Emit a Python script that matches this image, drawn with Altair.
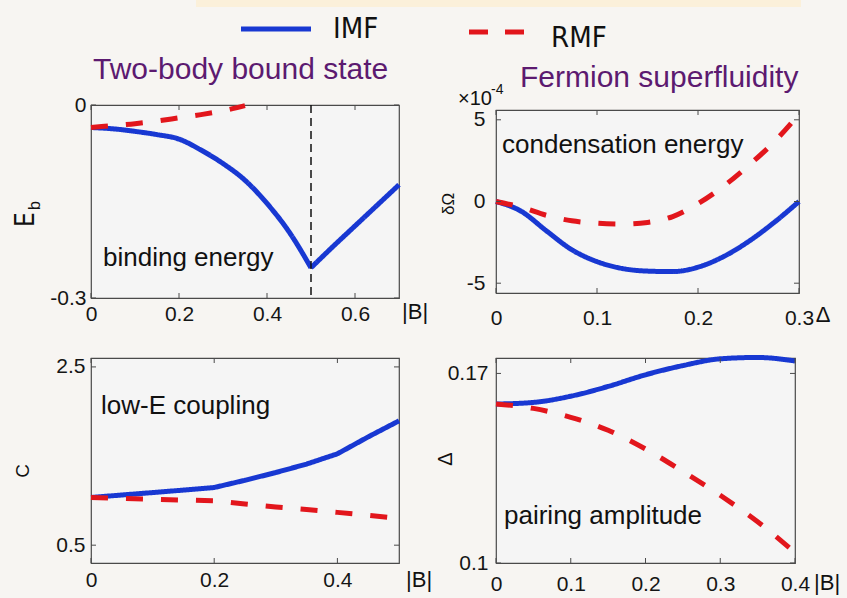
import altair as alt
import pandas as pd

# ---------------- data ----------------
series = ["IMF", "RMF"]

# Two-body bound state: binding energy E_b vs |B|  (IMF drawn as two pieces meeting at |B| = 0.5)
p1_B_imf = [0, 0.05, 0.1, 0.15, 0.2, 0.25, 0.3, 0.35, 0.4, 0.45, 0.5, 0.5, 0.55, 0.6, 0.65, 0.7]
p1_E_imf = [-0.035, -0.037, -0.041, -0.046, -0.053, -0.070, -0.091, -0.117, -0.153, -0.197,
            -0.253, -0.253, -0.220, -0.188, -0.156, -0.124]
p1_seg_imf = ["a"] * 11 + ["b"] * 5
p1_B_rmf = [0, 0.05, 0.1, 0.15, 0.2, 0.25, 0.3, 0.35]
p1_E_rmf = [-0.035, -0.032, -0.029, -0.025, -0.020, -0.015, -0.009, -0.001]
p1_xticks = [0, 0.2, 0.4, 0.6]
p1_yticks = [-0.3, 0]
p1_marker = [0.5]

# Fermion superfluidity: condensation energy dOmega (x1e-4) vs Delta
p2_D = [0, 0.025, 0.05, 0.075, 0.1, 0.125, 0.15, 0.175, 0.2, 0.225, 0.25, 0.275, 0.3]
p2_imf = [0, -0.6, -1.8, -2.95, -3.68, -4.1, -4.26, -4.29, -4.02, -3.38, -2.45, -1.3, 0]
p2_rmf = [0, -0.35, -0.85, -1.18, -1.33, -1.38, -1.28, -0.92, -0.13, 0.92, 2.2, 3.62, 5.35]
p2_xticks = [0, 0.1, 0.2, 0.3]
p2_yticks = [-5, 0, 5]

# low-E coupling C vs |B|
p3_B = [0, 0.05, 0.1, 0.15, 0.2, 0.25, 0.3, 0.35, 0.4, 0.45, 0.5]
p3_imf = [1.035, 1.063, 1.09, 1.118, 1.147, 1.228, 1.315, 1.41, 1.525, 1.715, 1.895]
p3_rmf = [1.035, 1.024, 1.015, 1.006, 0.998, 0.962, 0.928, 0.899, 0.868, 0.835, 0.80]
p3_xticks = [0, 0.2, 0.4]
p3_yticks = [0.5, 2.5]

# pairing amplitude Delta vs |B|
p4_B = [0, 0.05, 0.1, 0.15, 0.2, 0.25, 0.3, 0.35, 0.4]
p4_imf = [0.1587, 0.1593, 0.1616, 0.1652, 0.1695, 0.1729, 0.1754, 0.1759, 0.1746]
p4_rmf = [0.1587, 0.1571, 0.1538, 0.1490, 0.1421, 0.1338, 0.1250, 0.1152, 0.1039]
p4_xticks = [0, 0.1, 0.2, 0.3, 0.4]
p4_yticks = [0.1, 0.17]

# ---------------- styles ----------------
BLUE = "#1838d2"
RED = "#e2161c"
PURPLE = "#5c1a70"
AXC = "#4a4a4a"
FONT = "Liberation Sans"
COND = "DejaVu Sans Condensed, Liberation Sans"
LAB = "replace(format(datum.value, '~g'), '\u2212', '-')"


def txt(s, x, y, size=26, color="#111111", angle=None, align="left",
        baseline="alphabetic", font=FONT):
    kw = dict(fontSize=size, color=color, align=align, baseline=baseline, font=font)
    if angle is not None:
        kw["angle"] = angle
    return alt.Chart(pd.DataFrame({"t": [s]})).mark_text(**kw).encode(
        x=alt.value(x), y=alt.value(y), text="t:N")


def panel(x_imf, y_imf, x_rmf, y_rmf, xdom, ydom, xticks, yticks, W, H, xpad, ypad, extras,
          interp="linear", seg_imf=None):
    n1, n2 = len(x_imf), len(x_rmf)
    df = pd.DataFrame({
        "x": list(x_imf) + list(x_rmf),
        "y": list(y_imf) + list(y_rmf),
        "s": ["IMF"] * n1 + ["RMF"] * n2,
        "g": [("IMF" + k) for k in (seg_imf or ["a"] * n1)] + ["RMF"] * n2,
        "i": list(range(n1 + n2)),
    })
    xs = alt.Scale(domain=xdom, nice=False, zero=False)
    ys = alt.Scale(domain=ydom, nice=False, zero=False)
    xax = alt.Axis(values=xticks, title=None, ticks=False, domain=False, grid=False,
                   labelPadding=xpad, labelFlush=False, labelOverlap=False, labelExpr=LAB)
    yax = alt.Axis(values=yticks, title=None, ticks=False, domain=False, grid=False,
                   labelPadding=ypad, labelFlush=False, labelOverlap=False, labelExpr=LAB)
    X = lambda f: alt.X(f, scale=xs, axis=xax)
    Y = lambda f: alt.Y(f, scale=ys, axis=yax)
    lines = alt.Chart(df).mark_line(strokeWidth=5, interpolate=interp).encode(
        x=X("x:Q"),
        y=Y("y:Q"),
        color=alt.Color("s:N", scale=alt.Scale(domain=series, range=[BLUE, RED]), legend=None),
        strokeDash=alt.StrokeDash("s:N", scale=alt.Scale(domain=series, range=[[1, 0], [17, 18]]),
                                  legend=None),
        detail="g:N",
        order=alt.Order("i:Q"),
    )
    xt = pd.DataFrame({"x": xticks})
    yt = pd.DataFrame({"y": yticks})
    rb = alt.Chart(xt).mark_rule(color=AXC, strokeWidth=1).encode(
        x=X("x:Q"), y=alt.value(H), y2=alt.value(H - 5))
    rt = alt.Chart(xt).mark_rule(color=AXC, strokeWidth=1).encode(
        x=X("x:Q"), y=alt.value(0), y2=alt.value(5))
    rl = alt.Chart(yt).mark_rule(color=AXC, strokeWidth=1).encode(
        y=Y("y:Q"), x=alt.value(0), x2=alt.value(5))
    rr = alt.Chart(yt).mark_rule(color=AXC, strokeWidth=1).encode(
        y=Y("y:Q"), x=alt.value(W), x2=alt.value(W - 5))
    layers = [lines, rb, rt, rl, rr] + extras(X, Y)
    return alt.layer(*layers).properties(width=W, height=H)


def ex1(X, Y):
    band = alt.Chart(pd.DataFrame({"a": [0]})).mark_rect(color="#fbf0da").encode(
        x=alt.value(105), x2=alt.value(710), y=alt.value(-105), y2=alt.value(-98))
    leg_b = alt.Chart(pd.DataFrame({"a": [0]})).mark_rule(color=BLUE, strokeWidth=5).encode(
        x=alt.value(150), x2=alt.value(220), y=alt.value(-76))
    leg_r = alt.Chart(pd.DataFrame({"a": [0]})).mark_rule(color=RED, strokeWidth=5,
                                                          strokeDash=[19, 17]).encode(
        x=alt.value(378), x2=alt.value(433), y=alt.value(-73))
    vline = alt.Chart(pd.DataFrame({"x": p1_marker})).mark_rule(
        color="#111111", strokeWidth=1.5, strokeDash=[8, 5]).encode(x=X("x:Q"))
    return [vline, band, leg_b, leg_r,
            txt("IMF", 242, -67, size=29, font=COND),
            txt("RMF", 460, -58, size=29, font=COND),
            txt("Two-body bound state", 2, -26, size=30, color=PURPLE),
            txt("E", -65, 114.5, size=26, angle=270, align="center", baseline="middle", font=COND),
            txt("b", -56, 100.5, size=16, angle=270, align="center", baseline="middle"),
            txt("|B|", 311, 207, size=22, baseline="middle"),
            txt("binding energy", 12, 161, size=26)]


def ex2(X, Y):
    return [txt("Fermion superfluidity", 24, -23, size=30, color=PURPLE),
            txt("\u00d710", -38, -5, size=20),
            txt("-4", -5, -16, size=14),
            txt("\u03b4\u03a9", -47, 94, size=17, angle=270, align="center", baseline="middle"),
            txt("condensation energy", 6, 43, size=26),
            txt("\u0394", 327, 205, size=22, align="center", baseline="middle")]


def ex3(X, Y):
    return [txt("low-E coupling", 10, 56, size=26),
            txt("C", -68, 113, size=19, angle=270, align="center", baseline="middle"),
            txt("|B|", 315, 222, size=22, baseline="middle")]


def ex4(X, Y):
    return [txt("pairing amplitude", 8, 166, size=26),
            txt("\u0394", -50, 101, size=20, angle=270, align="center", baseline="middle"),
            txt("|B|", 318, 225, size=22, baseline="middle")]


c1 = panel(p1_B_imf, p1_E_imf, p1_B_rmf, p1_E_rmf, [0, 0.7], [-0.3, 0], p1_xticks, p1_yticks,
           308, 193, 5, 5, ex1, interp="monotone", seg_imf=p1_seg_imf)
c2 = panel(p2_D, p2_imf, p2_D, p2_rmf, [0, 0.3], [-5.6, 5.6], p2_xticks, p2_yticks,
           303, 183, 14, 11, ex2, interp="monotone")
c3 = panel(p3_B, p3_imf, p3_B, p3_rmf, [0, 0.5], [0.3, 2.6], p3_xticks, p3_yticks,
           308, 205, 6, 6, ex3)
c4 = panel(p4_B, p4_imf, p4_B, p4_rmf, [0, 0.4], [0.1, 0.1757], p4_xticks, p4_yticks,
           299, 205, 10, 8, ex4, interp="monotone")

chart = alt.concat(c1, c2, c3, c4, columns=2, spacing={"row": 60, "column": 97},
                   center=True, bounds="flush", align="each").properties(
    background="#f7f5f2",
    padding={"left": 91, "top": 105, "right": 756, "bottom": 493},
    autosize=alt.AutoSizeParams(type="none"),
).configure_view(
    fill="#f5f5f5", stroke=AXC, strokeWidth=1.2
).configure_axis(
    labelFont=FONT, labelFontSize=21, labelColor="#151515"
).configure_text(font=FONT)

chart.save("out.html", embed_options={"renderer": "svg", "actions": False})
